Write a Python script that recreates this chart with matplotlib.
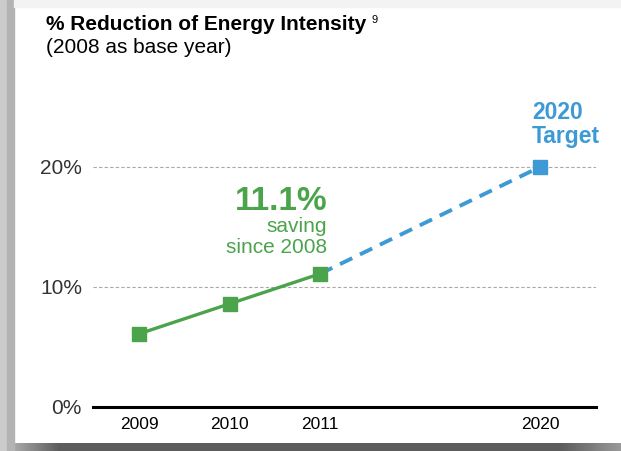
import numpy as np
import matplotlib.pyplot as plt
from matplotlib.patches import Rectangle

plt.rcParams['font.family'] = ['Liberation Sans', 'DejaVu Sans']

# reduction of energy intensity vs 2008 (%)
years = ['2009', '2010', '2011', '2020']
actual = [6.1, 8.6, 11.1]
target = 20.0
x_pos = [0, 1, 2, 4.43]

green = '#4ba44b'
blue = '#3d9ad5'

fig = plt.figure(figsize=(6.21, 4.51), dpi=100)
fig.patch.set_facecolor('white')

# card shadow along the left, top and bottom edges
fig.patches.append(Rectangle((0, 0), 7 / 621, 1, transform=fig.transFigure,
                             color='#cbcbcb', zorder=0))
fig.patches.append(Rectangle((7 / 621, 0), 7 / 621, 1, transform=fig.transFigure,
                             color='#b3b3b3', zorder=0))
fig.patches.append(Rectangle((14 / 621, 1 - 7 / 451), 1, 7 / 451, transform=fig.transFigure,
                             color='#f3f3f3', zorder=0))
shadow = fig.add_axes([0, 0, 1, 8 / 451])
grad = np.concatenate([np.linspace(0.75, 0.36, 60), np.full(500, 0.36), np.linspace(0.36, 0.6, 61)])
shadow.imshow(grad[None, :], cmap='gray', vmin=0, vmax=1, aspect='auto')
shadow.axis('off')

ax = fig.add_axes([93 / 621, 1 - 407 / 451, 503 / 621, 300 / 451])
ax.set_xlim(-0.51, 5.05)
ax.set_ylim(0, 25)

for y in [10, 20]:
    ax.axhline(y, color='#a8a8a8', lw=0.8, ls=(0, (3, 2)), zorder=1)
ax.axhline(0, color='black', lw=2.2, zorder=2, clip_on=False)

ax.plot(x_pos[:3], actual, color=green, lw=2.4, marker='s', ms=10,
        solid_capstyle='butt', zorder=4)
ax.plot([x_pos[2], x_pos[3]], [actual[-1], target], color=blue, lw=2.8,
        ls=(0, (3.5, 2.2)), zorder=3)
ax.plot(x_pos[3], target, color=blue, marker='s', ms=10, ls='none', zorder=4)

ax.set_yticks([0, 10, 20])
ax.set_yticklabels(['0%', '10%', '20%'], fontsize=15, color='#333333')
ax.set_xticks(x_pos)
ax.set_xticklabels(years, fontsize=12.5)
ax.tick_params(axis='y', length=0, pad=8)
ax.tick_params(axis='x', length=0, pad=7)
for s in ax.spines.values():
    s.set_visible(False)

ax.text(x_pos[2] + 0.08, 16.4, '11.1%', color=green, fontsize=24, fontweight='bold',
        ha='right', va='baseline')
ax.text(x_pos[2] + 0.08, 14.55, 'saving', color=green, fontsize=15,
        ha='right', va='baseline')
ax.text(x_pos[2] + 0.08, 12.85, 'since 2008', color=green, fontsize=15,
        ha='right', va='baseline')

ax.text(x_pos[3] - 0.09, 24.0, '2020', color=blue, fontsize=16.5, fontweight='bold',
        ha='left', va='baseline')
ax.text(x_pos[3] - 0.09, 22.0, 'Target', color=blue, fontsize=16.5, fontweight='bold',
        ha='left', va='baseline')

fig.text(46 / 621, 1 - 30 / 451, '% Reduction of Energy Intensity', fontsize=15,
         fontweight='bold', ha='left', va='baseline')
fig.text(371 / 621, 1 - 23 / 451, '9', fontsize=8, ha='left', va='baseline')
fig.text(46 / 621, 1 - 53 / 451, '(2008 as base year)', fontsize=15,
         ha='left', va='baseline')

fig.savefig('out.png', dpi=100)
